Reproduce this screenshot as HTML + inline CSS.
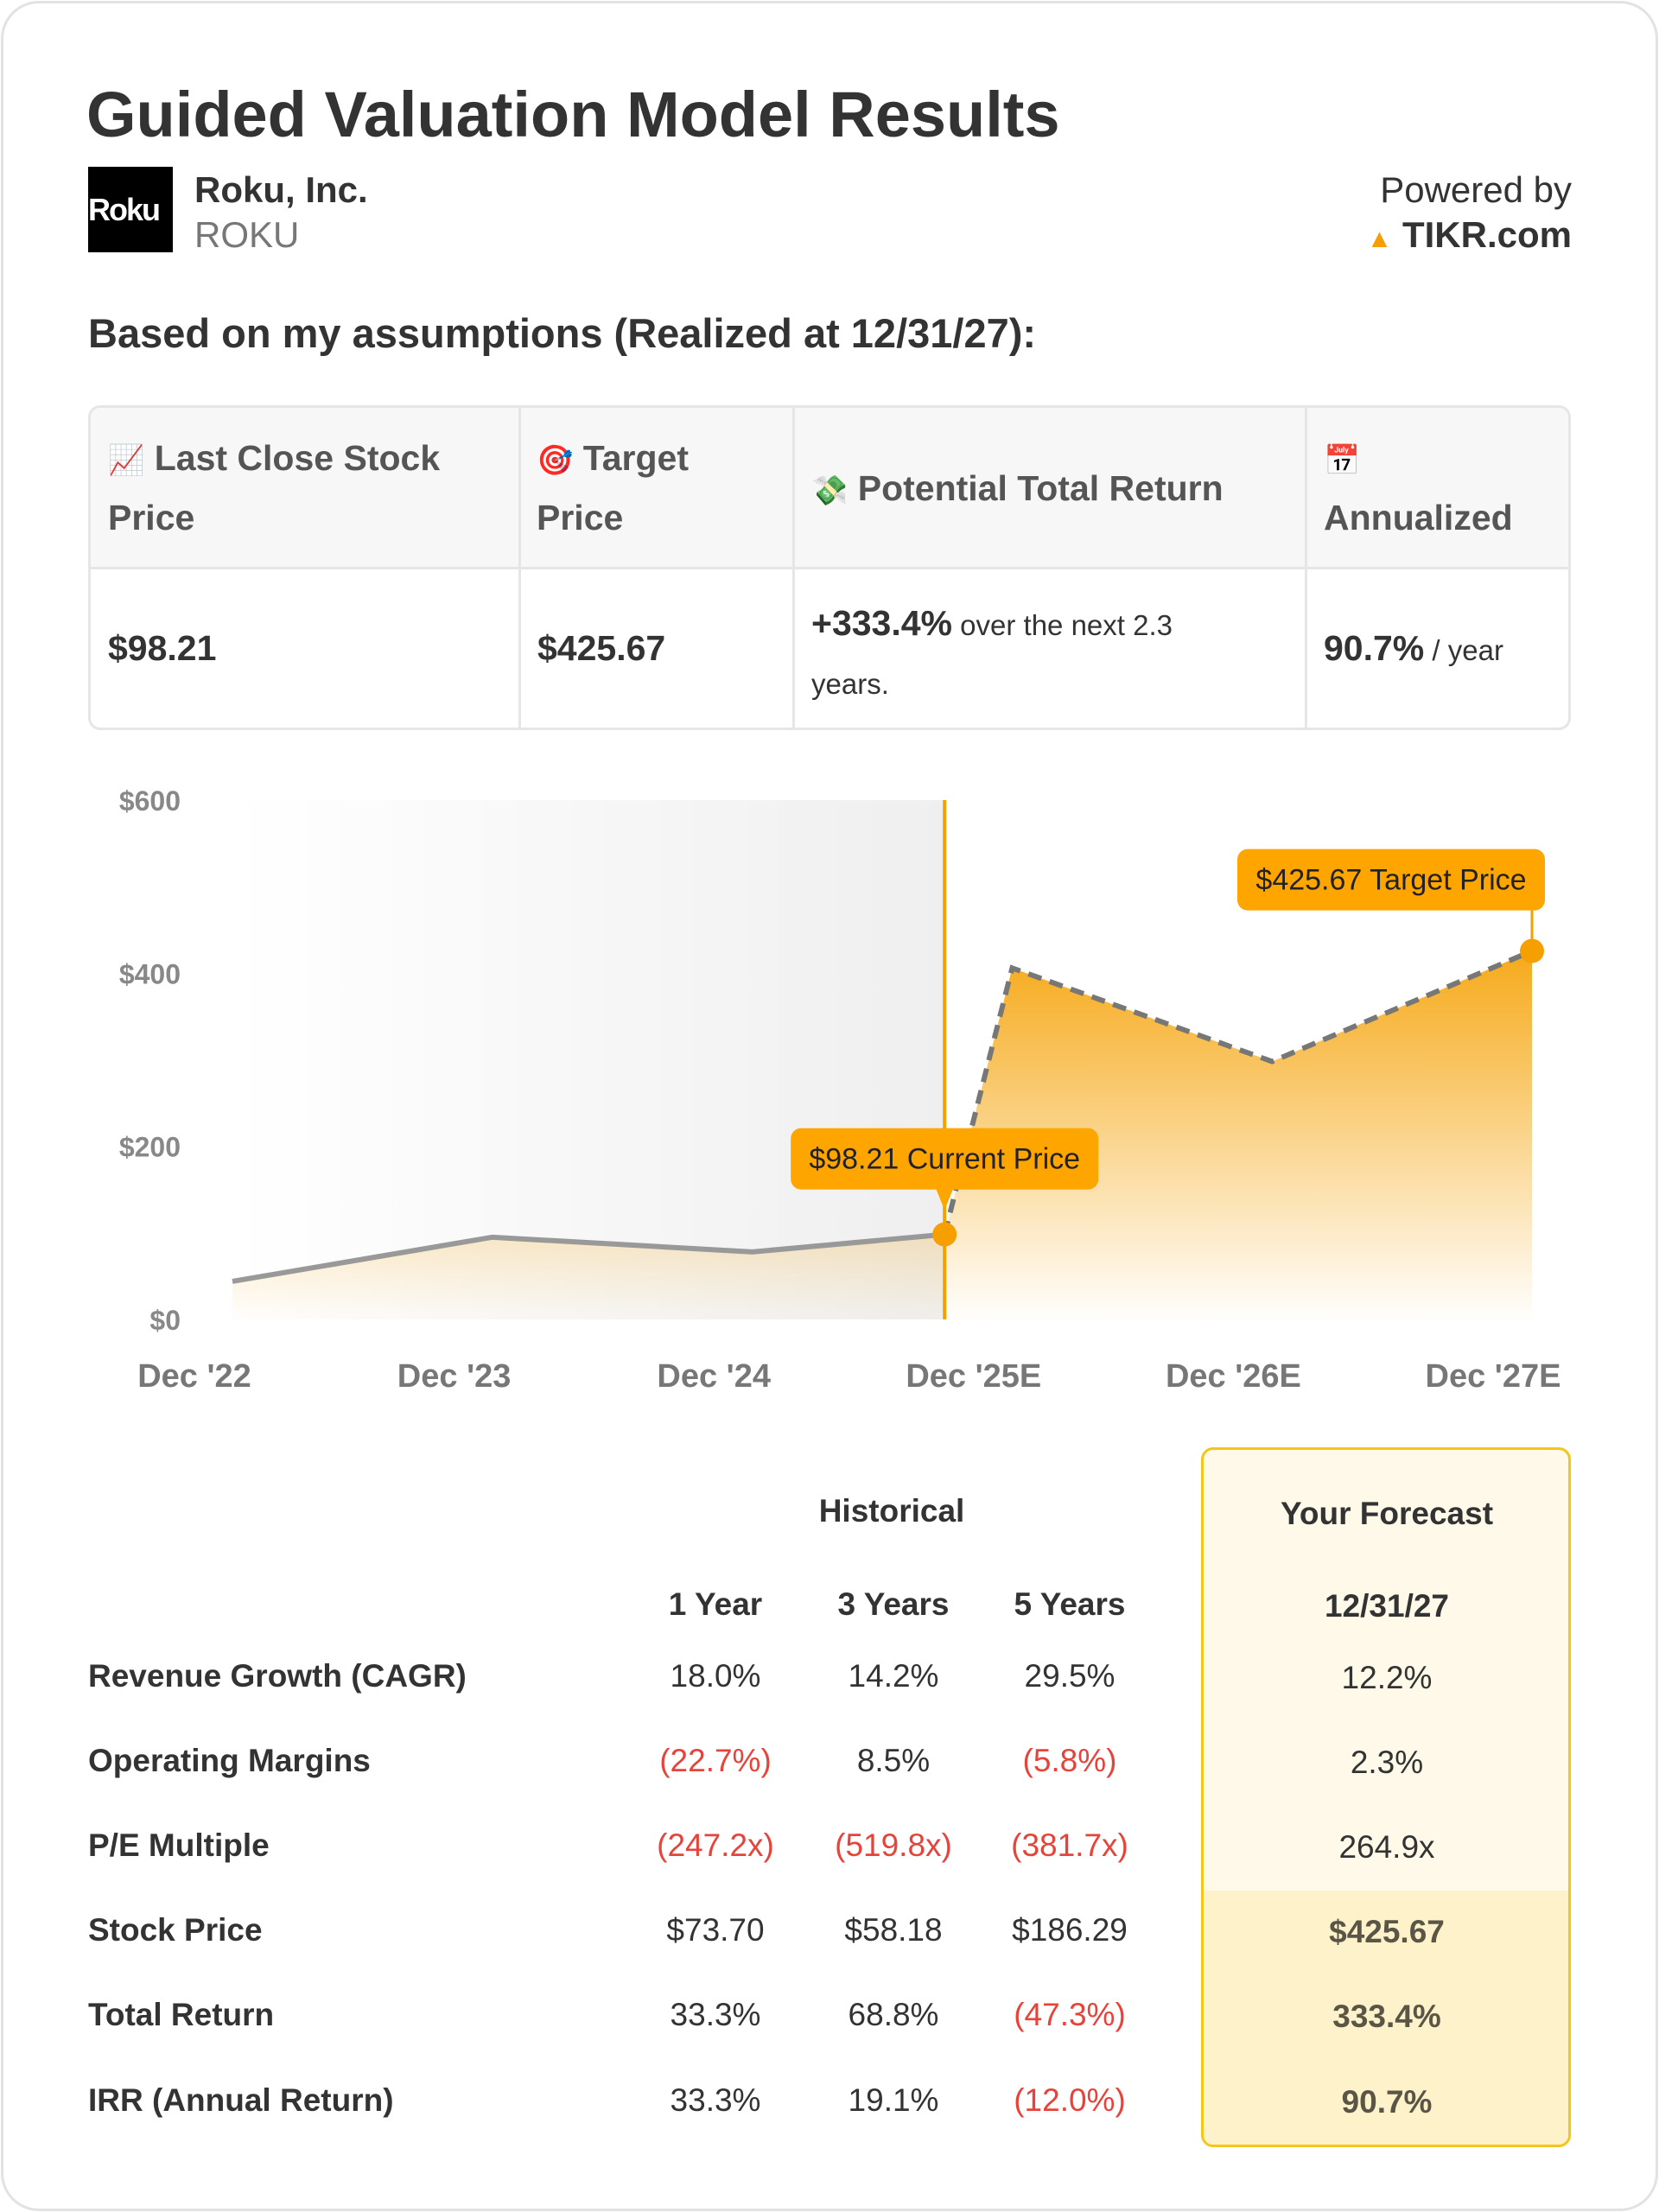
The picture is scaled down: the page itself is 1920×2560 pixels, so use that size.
<!DOCTYPE html>
<html><head><meta charset="utf-8">
<style>
*{margin:0;padding:0;box-sizing:border-box}
body{width:1920px;height:2560px;background:#fff;font-family:"Liberation Sans",Arial,sans-serif;color:#333;position:relative;overflow:hidden}
.card{position:absolute;left:1px;top:1px;width:1918px;height:2558px;border:3px solid #e2e2e2;border-radius:44px}
.a{position:absolute;white-space:nowrap}
.b{font-weight:bold}
.th{position:absolute;color:#555;font-weight:bold;font-size:41px;line-height:66px}
.lbl{position:absolute;left:102px;font-weight:bold;font-size:37px;color:#333;transform:translateY(-50%)}
.v{position:absolute;font-size:37px;color:#333;transform:translate(-50%,-50%);white-space:nowrap}
.neg{color:#e8433a}
.fv{color:#5a5546;font-weight:bold}
</style></head><body>
<div class="card"></div>
<div class="a b" style="left:100px;top:90px;font-size:74px;color:#333">Guided Valuation Model Results</div>
<div class="a" style="left:102px;top:193px;width:98px;height:99px;background:#000;color:#fff;font-weight:bold;font-size:36px;line-height:99px;overflow:hidden;letter-spacing:-2px">Roku</div>
<div class="a b" style="left:225px;top:196px;font-size:42px">Roku, Inc.</div>
<div class="a" style="left:225px;top:248px;font-size:42px;color:#777">ROKU</div>
<div class="a" style="right:101px;top:196px;font-size:42px;color:#333">Powered by</div>
<div class="a b" style="right:101px;top:248px;font-size:42px;color:#333"><span style="color:#f5a000;font-size:30px">&#9650;</span> TIKR.com</div>
<div class="a b" style="left:102px;top:358px;font-size:47px;color:#333">Based on my assumptions (Realized at 12/31/27):</div>

<div style="position:absolute;left:102px;top:469px;width:1716px;height:376px;border:3px solid #e6e6e6;border-radius:14px;overflow:hidden">
 <div style="position:absolute;left:0;top:0;width:100%;height:187px;background:#f7f7f7;border-bottom:3px solid #e6e6e6"></div>
 <div style="position:absolute;left:495px;top:0;width:3px;height:100%;background:#e6e6e6"></div>
 <div style="position:absolute;left:812px;top:0;width:3px;height:100%;background:#e6e6e6"></div>
 <div style="position:absolute;left:1405px;top:0;width:3px;height:100%;background:#e6e6e6"></div>
 <div class="th" style="left:20px;top:25px;width:460px"><span style="font-size:34px">📈</span> Last Close Stock Price</div>
 <div class="th" style="left:516px;top:25px;width:230px"><span style="font-size:34px">🎯</span> Target Price</div>
 <div class="th" style="left:834px;top:60px;width:560px"><span style="font-size:34px">💸</span> Potential Total Return</div>
 <div class="th" style="left:1427px;top:25px;width:280px"><span style="font-size:34px">📅</span><br>Annualized</div>
 <div class="a b" style="left:20px;top:255px;font-size:41px">$98.21</div>
 <div class="a b" style="left:517px;top:255px;font-size:41px">$425.67</div>
 <div class="a" style="left:834px;top:215px;width:490px;white-space:normal;font-size:33px;line-height:68px"><b style="font-size:41px">+333.4%</b> over the next 2.3 years.</div>
 <div class="a" style="left:1427px;top:255px;font-size:33px"><b style="font-size:41px">90.7%</b> / year</div>
</div>

<svg id="chart" width="1920" height="2560" style="position:absolute;left:0;top:0" xmlns="http://www.w3.org/2000/svg">
<defs>
<linearGradient id="bg" x1="0" x2="1" y1="0" y2="0"><stop offset="0" stop-color="#fff"/><stop offset="1" stop-color="#efefef"/></linearGradient>
<linearGradient id="fill" gradientUnits="userSpaceOnUse" x1="0" y1="1100" x2="0" y2="1520"><stop offset="0" stop-color="#f5a000" stop-opacity="0.9"/><stop offset="1" stop-color="#f5a000" stop-opacity="0.02"/></linearGradient>
</defs>
<g id="g"></g>
</svg>
<script>
const categories=["Dec '22","Dec '23","Dec '24","Dec '25E","Dec '26E","Dec '27E"];
const pointPos=[0,1,2,2.74,3,4,5];
const priceValues=[44,95,78,98.21,406,298,425.67];
const yTicks=[0,200,400,600];
const yTickLabels=["$0","$200","$400","$600"];
const currentIndex=3;
const NS="http://www.w3.org/2000/svg";
const g=document.getElementById('g');
function X(i){return 269+i*300.8;}
function LX(i){return 225+i*300.6;}
function Y(v){return 1527-v*601/600;}
function mk(t,a){const e=document.createElementNS(NS,t);for(const k in a)e.setAttribute(k,a[k]);g.appendChild(e);return e;}
const cx=X(pointPos[currentIndex]), cy=Y(priceValues[currentIndex]);
let e=mk('rect',{x:X(0),y:Y(600),width:cx-X(0),height:Y(0)-Y(600),fill:'url(#bg)'});


yTicks.forEach((t,i)=>{const tx=mk('text',{x:209,y:Y(t)+12,'text-anchor':'end','font-size':32,'font-weight':'bold',fill:'#888'});tx.textContent=yTickLabels[i];

});
categories.forEach((c,i)=>{const tx=mk('text',{x:LX(i),y:1605,'text-anchor':'middle','font-size':38,'font-weight':'bold',fill:'#777'});tx.textContent=c;

});
let d='M'+X(pointPos[0])+','+Y(0);
pointPos.forEach((p,i)=>{d+=' L'+X(p)+','+Y(priceValues[i]);});
d+=' L'+X(pointPos[pointPos.length-1])+','+Y(0)+' Z';
e=mk('path',{d:d,fill:'url(#fill)'});


let p1='',p2='';
pointPos.forEach((p,i)=>{if(i<=currentIndex)p1+=(p1?' L':'M')+X(p)+','+Y(priceValues[i]);if(i>=currentIndex)p2+=(p2?' L':'M')+X(p)+','+Y(priceValues[i]);});
e=mk('path',{d:p1,fill:'none',stroke:'#999',"stroke-width":6});


e=mk('path',{d:p2,fill:'none',stroke:'#777',"stroke-width":6,"stroke-dasharray":"16 10"});


e=mk('line',{x1:cx,x2:cx,y1:Y(600),y2:Y(0),stroke:'#f5a000','stroke-width':4});


const cb=mk('rect',{x:cx-178,y:cy-123,width:356,height:71,rx:12,fill:'#ffa500'});


mk('path',{d:`M${cx-10},${cy-53} L${cx+10},${cy-53} L${cx},${cy-28} Z`,fill:'#ffa500'});
let t=mk('text',{x:cx,y:cy-76,'text-anchor':'middle','font-size':34,fill:'#222'});t.textContent='$'+priceValues[currentIndex]+' Current Price';


e=mk('circle',{cx:cx,cy:cy,r:14,fill:'#f5a000'});


const li=pointPos.length-1,tx=X(pointPos[li]),ty=Y(priceValues[li]);
mk('line',{x1:tx,x2:tx,y1:ty-80,y2:ty,stroke:'#f5a000','stroke-width':3});
e=mk('rect',{x:tx-341,y:ty-118,width:356,height:71,rx:12,fill:'#ffa500'});


t=mk('text',{x:tx-163,y:ty-71,'text-anchor':'middle','font-size':34,fill:'#222'});t.textContent='$'+priceValues[li]+' Target Price';


e=mk('circle',{cx:tx,cy:ty,r:14,fill:'#f5a000'});


</script>

<div style="position:absolute;left:1390px;top:1675px;width:428px;height:810px;border:3px solid #f5c518;border-radius:14px;background:#fef9e8;overflow:hidden">
 <div style="position:absolute;left:0;top:510px;width:100%;height:300px;background:#fdf2c9"></div>
</div>
<div class="v b" style="left:1032px;top:1749px;font-size:37px">Historical</div>
<div class="v b" style="left:1605px;top:1752px;font-size:37px">Your Forecast</div>
<div class="v b" style="left:828px;top:1857px;font-size:37px">1 Year</div>
<div class="v b" style="left:1034px;top:1857px;font-size:37px">3 Years</div>
<div class="v b" style="left:1238px;top:1857px;font-size:37px">5 Years</div>
<div class="v b" style="left:1605px;top:1859px;font-size:37px">12/31/27</div>

<div class="lbl" style="top:1940px">Revenue Growth (CAGR)</div>
<div class="v" style="left:828px;top:1940px">18.0%</div>
<div class="v" style="left:1034px;top:1940px">14.2%</div>
<div class="v" style="left:1238px;top:1940px">29.5%</div>
<div class="v" style="left:1605px;top:1942px">12.2%</div>

<div class="lbl" style="top:2038px">Operating Margins</div>
<div class="v neg" style="left:828px;top:2038px">(22.7%)</div>
<div class="v" style="left:1034px;top:2038px">8.5%</div>
<div class="v neg" style="left:1238px;top:2038px">(5.8%)</div>
<div class="v" style="left:1605px;top:2040px">2.3%</div>

<div class="lbl" style="top:2136px">P/E Multiple</div>
<div class="v neg" style="left:828px;top:2136px">(247.2x)</div>
<div class="v neg" style="left:1034px;top:2136px">(519.8x)</div>
<div class="v neg" style="left:1238px;top:2136px">(381.7x)</div>
<div class="v" style="left:1605px;top:2138px">264.9x</div>

<div class="lbl" style="top:2234px">Stock Price</div>
<div class="v" style="left:828px;top:2234px">$73.70</div>
<div class="v" style="left:1034px;top:2234px">$58.18</div>
<div class="v" style="left:1238px;top:2234px">$186.29</div>
<div class="v fv" style="left:1605px;top:2236px">$425.67</div>

<div class="lbl" style="top:2332px">Total Return</div>
<div class="v" style="left:828px;top:2332px">33.3%</div>
<div class="v" style="left:1034px;top:2332px">68.8%</div>
<div class="v neg" style="left:1238px;top:2332px">(47.3%)</div>
<div class="v fv" style="left:1605px;top:2334px">333.4%</div>

<div class="lbl" style="top:2431px">IRR (Annual Return)</div>
<div class="v" style="left:828px;top:2431px">33.3%</div>
<div class="v" style="left:1034px;top:2431px">19.1%</div>
<div class="v neg" style="left:1238px;top:2431px">(12.0%)</div>
<div class="v fv" style="left:1605px;top:2433px">90.7%</div>
</body></html>
